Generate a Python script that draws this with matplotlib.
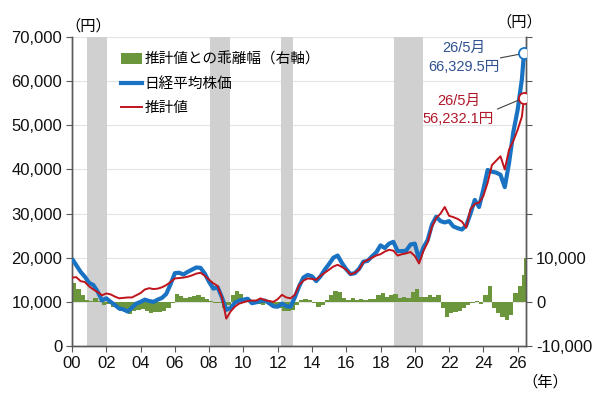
import numpy as np
import matplotlib
matplotlib.use('Agg')
import matplotlib.pyplot as plt
from matplotlib.patches import Patch
from matplotlib.lines import Line2D

plt.rcParams['font.family'] = ['Liberation Sans', 'Noto Sans CJK JP']

# quarterly points 2000Q1 .. 2026Q2, last point = May 2026
dates = list(np.arange(2000, 2026.3, 0.25)) + [2026.37]

nikkei = [
    19800, 18300, 16800, 15700,
    14300, 13800, 12300, 10300,
    10800, 10000, 9300, 8500,
    8300, 7800, 8700, 9600,
    10000, 10500, 10200, 10000,
    10500, 10900, 11800, 14000,
    16500, 16600, 16200, 16800,
    17300, 17800, 17700, 16400,
    14500, 13000, 13300, 11000,
    8200, 8600, 9800, 10300,
    10500, 10700, 9700, 9900,
    10200, 10300, 9700, 9000,
    8900, 9600, 9000, 8900,
    11000, 13500, 15500, 16100,
    15800, 14700, 15800, 17300,
    18600, 20000, 20500, 18800,
    17400, 16300, 16500, 17500,
    19100, 19300, 20300, 21200,
    22800, 22200, 23200, 23600,
    21500, 21500, 21600, 23000,
    23200, 19600, 22300, 24000,
    27500, 29300, 28300, 28000,
    28300, 27100, 26700, 26400,
    27300, 30000, 33100, 31500,
    35500, 39900, 39500, 39300,
    38800, 36000, 41500, 48500,
    53500, 60500, 66329.5,
]

estimate = [
    15500, 15600, 14700, 14500,
    13500, 12800, 12200, 11500,
    11900, 11700, 11200, 10800,
    10900, 11000, 11000, 11500,
    12000, 12800, 13100, 12900,
    13000, 13300, 13800, 14500,
    15300, 15400, 15500, 15700,
    16000, 16400, 16600, 15900,
    15000, 14200, 13600, 11000,
    6200, 7800, 8900, 9600,
    9900, 10200, 10300, 10300,
    10800, 10400, 10200, 10000,
    10600, 11600, 11000, 10800,
    11600, 13800, 14800, 15300,
    15200, 15000, 15900, 16600,
    17300, 18000, 18400, 17900,
    17300, 16200, 16600, 17300,
    19000, 19500, 20000, 20500,
    20800, 21400, 21800, 21600,
    20500, 20800, 21000, 21300,
    20400, 18700, 21500, 23500,
    27000, 29000, 30000, 31500,
    29500, 29200, 28800, 28200,
    26800, 31000, 32200, 32500,
    34000, 37000, 41000, 42000,
    43000, 40000, 44500, 46500,
    49000, 52000, 56232.1,
]

gap = [
    4200, 3000, 1500, 500,
    300, 800, 200, -800,
    -500, -1200, -1500, -2000,
    -2300, -2800, -2000, -1800,
    -1700, -2000, -2500, -2400,
    -2200, -2000, -1500, -300,
    1800, 1400, 800, 1100,
    1300, 1500, 1100, 600,
    200, -200, -300, -1500,
    -800, 1500, 2500, 1800,
    500, 300, -500, -400,
    -600, -300, -500, -1000,
    -1500, -2000, -2000, -1800,
    -800, 500, 600, 400,
    -300, -1200, -600, 400,
    1500, 2500, 2200, 800,
    500, 800, 400, 700,
    500, 600, 700, 1500,
    2000, 1000, 1600, 1800,
    900, 1000, 800, 2200,
    3000, 1200, 1000, 1500,
    1200, 1500, -1500, -3500,
    -2500, -2200, -2000, -1500,
    -800, -300, 300, -400,
    1500, 3500, -1500, -2500,
    -3500, -4200, -3000, 2000,
    3500, 6000, 10000,
]

# shaded periods (recessions)
shade_start = [2000.88, 2008.07, 2012.17, 2018.77]
shade_end = [2002.05, 2009.24, 2012.92, 2020.47]

blue = '#1a72c2'
red = '#c0141c'
green = '#6b963c'
axis_col = '#595959'

fig = plt.figure(figsize=(6, 3.98), dpi=100)
ax = fig.add_axes([0.12, 0.1307, 0.757, 0.776])
ax2 = ax.twinx()
ax.set_zorder(ax2.get_zorder() + 1)
ax.patch.set_visible(False)

# background: grid + shading + bars on the right axis
ax2.set_axisbelow(True)
ax2.grid(axis='y', color='#e3e3e3', lw=0.8, zorder=0)
for s, e in zip(shade_start, shade_end):
    ax2.axvspan(s, e, color='#d0d0d0', lw=0, zorder=0.8)
widths = list(np.diff(dates)) + [0.1]
ax2.bar(dates, gap, width=widths, align='edge', color=green, lw=0, zorder=2)
ax2.set_ylim(-10000, 60000)
ax2.set_yticks(range(-10000, 60001, 10000))
ax2.set_yticklabels(['-10,000', '0', '10,000', '', '', '', '', ''])

# lines on the left axis
ax.plot(dates, nikkei, color=blue, lw=3, solid_capstyle='butt', zorder=3)
ax.plot(dates, estimate, color=red, lw=1.4, zorder=4)
ax.plot(dates[-1], nikkei[-1], 'o', ms=8, mfc='white', mec=blue, mew=1.3, zorder=6)
ax.plot(dates[-1], estimate[-1], 'o', ms=8, mfc='white', mec=red, mew=1.3, zorder=6)

ax.set_xlim(2000, 2026.5)
ax.set_ylim(0, 70000)
ax.set_yticks(range(0, 70001, 10000))
ax.set_yticklabels([f'{v:,}' for v in range(0, 70001, 10000)])
xt = list(range(2000, 2027, 2))
ax.set_xticks(xt)
ax.set_xticklabels([f'{y % 100:02d}' for y in xt])

for a in (ax, ax2):
    a.spines['top'].set_visible(False)
    for s in ('left', 'right', 'bottom'):
        a.spines[s].set_color(axis_col)
        a.spines[s].set_linewidth(1.0)
    a.tick_params(direction='out', length=4, color=axis_col, labelsize=12,
                  labelcolor='#111111', pad=3)

# annotations
ax.text(2022.84, 65300, '26/5月\n66,329.5円', ha='center', va='center',
        color='#2f5190', fontsize=10.5, linespacing=1.45)
ax.text(2022.55, 53500, '26/5月\n56,232.1円', ha='center', va='center',
        color='#b0182a', fontsize=10.5, linespacing=1.45)
ax.annotate('', xy=(dates[-1], nikkei[-1]), xytext=(2025.0, 65300),
            arrowprops=dict(arrowstyle='-', color='#404040', lw=0.8, shrinkA=0, shrinkB=4))
ax.annotate('', xy=(dates[-1], estimate[-1]), xytext=(2024.82, 53700),
            arrowprops=dict(arrowstyle='-', color='#404040', lw=0.8, shrinkA=0, shrinkB=4))

ax.text(0.035, 1.01, '（円）', transform=ax.transAxes, ha='center', va='bottom',
        fontsize=11, family='Noto Sans CJK JP')
ax.text(0.985, 1.02, '（円）', transform=ax.transAxes, ha='center', va='bottom',
        fontsize=11, family='Noto Sans CJK JP')
ax.text(1.042, -0.117, '（年）', transform=ax.transAxes, ha='center', va='center',
        fontsize=11, family='Noto Sans CJK JP')

handles = [Patch(facecolor=green, lw=0),
           Line2D([], [], color=blue, lw=3),
           Line2D([], [], color=red, lw=1.4)]
labels = ['推計値との乖離幅（右軸）', '日経平均株価', '推計値']
ax.legend(handles, labels, loc='upper left', bbox_to_anchor=(0.108, 0.95),
          frameon=False, fontsize=10.5, handlelength=1.45, handletextpad=0.15,
          labelspacing=0.7, borderaxespad=0, borderpad=0)

fig.savefig('out.png', dpi=100)
